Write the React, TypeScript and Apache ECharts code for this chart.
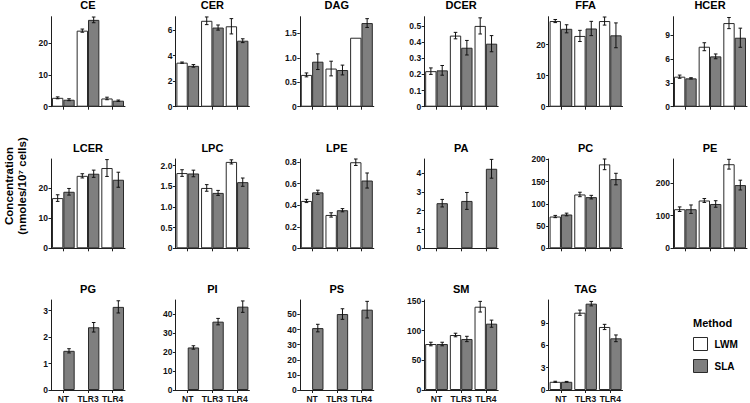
import { useEffect, useRef } from "react";
import * as echarts from "echarts";

const CATEGORIES = ["NT", "TLR3", "TLR4"];
const SERIES_NAMES = ["LWM", "SLA"];
const LEGEND_TITLE = "Method";
const Y_TITLE_1 = "Concentration";
const Y_TITLE_2 = "(nmoles/10⁷ cells)";

// ---- data (means and SEM) ----
const CE_LWM = [2.8, 24.0, 2.6];
const CE_LWM_ERR = [0.3, 0.5, 0.4];
const CE_SLA = [2.2, 27.4, 1.9];
const CE_SLA_ERR = [0.3, 0.9, 0.2];
const CE_MAX = 28.4;
const CE_TICKS = [0, 10, 20];

const CER_LWM = [3.45, 6.73, 6.3];
const CER_LWM_ERR = [0.05, 0.3, 0.6];
const CER_SLA = [3.2, 6.2, 5.17];
const CER_SLA_ERR = [0.1, 0.2, 0.15];
const CER_MAX = 7.05;
const CER_TICKS = [0, 2, 4, 6];

const DAG_LWM = [0.65, 0.78, 1.41];
const DAG_LWM_ERR = [0.04, 0.15, 0];
const DAG_SLA = [0.92, 0.75, 1.71];
const DAG_SLA_ERR = [0.16, 0.1, 0.09];
const DAG_MAX = 1.84;
const DAG_TICKS = [0, 0.5, 1.0, 1.5];

const DCER_LWM = [0.22, 0.44, 0.5];
const DCER_LWM_ERR = [0.02, 0.02, 0.05];
const DCER_SLA = [0.225, 0.365, 0.39];
const DCER_SLA_ERR = [0.03, 0.045, 0.05];
const DCER_MAX = 0.557;
const DCER_TICKS = [0, 0.1, 0.2, 0.3, 0.4, 0.5];

const FFA_LWM = [27.6, 22.8, 27.6];
const FFA_LWM_ERR = [0.5, 1.8, 1.3];
const FFA_SLA = [25.1, 25.2, 23.0];
const FFA_SLA_ERR = [1.3, 2.3, 4.0];
const FFA_MAX = 29;
const FFA_TICKS = [0, 10, 20];

const HCER_LWM = [3.77, 7.53, 10.5];
const HCER_LWM_ERR = [0.2, 0.5, 0.7];
const HCER_SLA = [3.56, 6.32, 8.66];
const HCER_SLA_ERR = [0.08, 0.3, 1.2];
const HCER_MAX = 11.3;
const HCER_TICKS = [0, 3, 6, 9];

const LCER_LWM = [16.7, 24.1, 26.7];
const LCER_LWM_ERR = [1.1, 0.7, 2.8];
const LCER_SLA = [18.8, 24.8, 22.8];
const LCER_SLA_ERR = [1.1, 1.2, 2.5];
const LCER_MAX = 29.7;
const LCER_TICKS = [0, 10, 20];

const LPC_LWM = [1.82, 1.46, 2.09];
const LPC_LWM_ERR = [0.08, 0.08, 0.05];
const LPC_SLA = [1.81, 1.34, 1.6];
const LPC_SLA_ERR = [0.08, 0.06, 0.1];
const LPC_MAX = 2.16;
const LPC_TICKS = [0, 0.5, 1.0, 1.5, 2.0];

const LPE_LWM = [0.44, 0.31, 0.8];
const LPE_LWM_ERR = [0.015, 0.02, 0.03];
const LPE_SLA = [0.52, 0.354, 0.63];
const LPE_SLA_ERR = [0.02, 0.015, 0.07];
const LPE_MAX = 0.83;
const LPE_TICKS = [0, 0.2, 0.4, 0.6, 0.8];

const PA_LWM = [null, null, null];
const PA_LWM_ERR = [null, null, null];
const PA_SLA = [2.4, 2.52, 4.23];
const PA_SLA_ERR = [0.2, 0.45, 0.5];
const PA_MAX = 4.75;
const PA_TICKS = [0, 1, 2, 3, 4];

const PC_LWM = [71.4, 121, 188.7];
const PC_LWM_ERR = [2.5, 5, 12];
const PC_SLA = [76, 115, 155.6];
const PC_SLA_ERR = [3, 4, 13];
const PC_MAX = 200.7;
const PC_TICKS = [0, 50, 100, 150, 200];

const PE_LWM = [120, 146.7, 258];
const PE_LWM_ERR = [7, 6, 15];
const PE_SLA = [120, 136, 194];
const PE_SLA_ERR = [13, 10, 15];
const PE_MAX = 274;
const PE_TICKS = [0, 100, 200];

const PG_LWM = [null, null, null];
const PG_LWM_ERR = [null, null, null];
const PG_SLA = [1.48, 2.37, 3.14];
const PG_SLA_ERR = [0.08, 0.18, 0.23];
const PG_MAX = 3.4;
const PG_TICKS = [0, 1, 2, 3];

const PI_LWM = [null, null, null];
const PI_LWM_ERR = [null, null, null];
const PI_SLA = [22.4, 36, 43.9];
const PI_SLA_ERR = [0.9, 1.7, 3];
const PI_MAX = 47.4;
const PI_TICKS = [0, 10, 20, 30, 40];

const PS_LWM = [null, null, null];
const PS_LWM_ERR = [null, null, null];
const PS_SLA = [41, 50.3, 53.2];
const PS_SLA_ERR = [2.5, 3.5, 5.5];
const PS_MAX = 59.6;
const PS_TICKS = [0, 10, 20, 30, 40, 50];

const SM_LWM = [77.5, 92.7, 140.4];
const SM_LWM_ERR = [3, 3, 9];
const SM_SLA = [77.5, 86, 111.8];
const SM_SLA_ERR = [3, 4.5, 6];
const SM_MAX = 151.7;
const SM_TICKS = [0, 50, 100, 150];

const TAG_LWM = [1.1, 10.35, 8.44];
const TAG_LWM_ERR = [0.07, 0.35, 0.35];
const TAG_SLA = [1.1, 11.56, 6.92];
const TAG_SLA_ERR = [0.05, 0.3, 0.45];
const TAG_MAX = 12.05;
const TAG_TICKS = [0, 3, 6, 9];

const PANELS = [
  { name: "CE", lwm: CE_LWM, lwmErr: CE_LWM_ERR, sla: CE_SLA, slaErr: CE_SLA_ERR, max: CE_MAX, ticks: CE_TICKS, dec: 0 },
  { name: "CER", lwm: CER_LWM, lwmErr: CER_LWM_ERR, sla: CER_SLA, slaErr: CER_SLA_ERR, max: CER_MAX, ticks: CER_TICKS, dec: 0 },
  { name: "DAG", lwm: DAG_LWM, lwmErr: DAG_LWM_ERR, sla: DAG_SLA, slaErr: DAG_SLA_ERR, max: DAG_MAX, ticks: DAG_TICKS, dec: 1 },
  { name: "DCER", lwm: DCER_LWM, lwmErr: DCER_LWM_ERR, sla: DCER_SLA, slaErr: DCER_SLA_ERR, max: DCER_MAX, ticks: DCER_TICKS, dec: 1 },
  { name: "FFA", lwm: FFA_LWM, lwmErr: FFA_LWM_ERR, sla: FFA_SLA, slaErr: FFA_SLA_ERR, max: FFA_MAX, ticks: FFA_TICKS, dec: 0 },
  { name: "HCER", lwm: HCER_LWM, lwmErr: HCER_LWM_ERR, sla: HCER_SLA, slaErr: HCER_SLA_ERR, max: HCER_MAX, ticks: HCER_TICKS, dec: 0 },
  { name: "LCER", lwm: LCER_LWM, lwmErr: LCER_LWM_ERR, sla: LCER_SLA, slaErr: LCER_SLA_ERR, max: LCER_MAX, ticks: LCER_TICKS, dec: 0 },
  { name: "LPC", lwm: LPC_LWM, lwmErr: LPC_LWM_ERR, sla: LPC_SLA, slaErr: LPC_SLA_ERR, max: LPC_MAX, ticks: LPC_TICKS, dec: 1 },
  { name: "LPE", lwm: LPE_LWM, lwmErr: LPE_LWM_ERR, sla: LPE_SLA, slaErr: LPE_SLA_ERR, max: LPE_MAX, ticks: LPE_TICKS, dec: 1 },
  { name: "PA", lwm: PA_LWM, lwmErr: PA_LWM_ERR, sla: PA_SLA, slaErr: PA_SLA_ERR, max: PA_MAX, ticks: PA_TICKS, dec: 0 },
  { name: "PC", lwm: PC_LWM, lwmErr: PC_LWM_ERR, sla: PC_SLA, slaErr: PC_SLA_ERR, max: PC_MAX, ticks: PC_TICKS, dec: 0 },
  { name: "PE", lwm: PE_LWM, lwmErr: PE_LWM_ERR, sla: PE_SLA, slaErr: PE_SLA_ERR, max: PE_MAX, ticks: PE_TICKS, dec: 0 },
  { name: "PG", lwm: PG_LWM, lwmErr: PG_LWM_ERR, sla: PG_SLA, slaErr: PG_SLA_ERR, max: PG_MAX, ticks: PG_TICKS, dec: 0 },
  { name: "PI", lwm: PI_LWM, lwmErr: PI_LWM_ERR, sla: PI_SLA, slaErr: PI_SLA_ERR, max: PI_MAX, ticks: PI_TICKS, dec: 0 },
  { name: "PS", lwm: PS_LWM, lwmErr: PS_LWM_ERR, sla: PS_SLA, slaErr: PS_SLA_ERR, max: PS_MAX, ticks: PS_TICKS, dec: 0 },
  { name: "SM", lwm: SM_LWM, lwmErr: SM_LWM_ERR, sla: SM_SLA, slaErr: SM_SLA_ERR, max: SM_MAX, ticks: SM_TICKS, dec: 0 },
  { name: "TAG", lwm: TAG_LWM, lwmErr: TAG_LWM_ERR, sla: TAG_SLA, slaErr: TAG_SLA_ERR, max: TAG_MAX, ticks: TAG_TICKS, dec: 0 },
];

// ---- layout / style ----
const FONT = "'Liberation Sans', Arial, Helvetica, sans-serif";
const COL_LEFT0 = 51;
const COL_STEP = 124.4;
const ROW_TOPS = [16.7, 159, 300];
const PLOT_W = 74;
const PLOT_H = [90, 89.3, 90];
const TITLE_OFFSET = 11.5;
const CAT_GAP = 0.08;
const AXIS_COLOR = "#1e1e1e";
const WHITE = "#ffffff";
const GREY = "#7f7f7f";
const BORDER = "#2a2a2a";

function makeErrRender(side: number) {
  return (params: any, api: any) => {
    const idx = api.value(0);
    const m = api.value(1);
    const e = api.value(2);
    const band = api.size([1, 0])[0];
    const bw = (band * (1 - CAT_GAP)) / 2;
    const c = api.coord([idx, m]);
    const x = c[0] + (side * bw) / 2;
    const top = api.coord([idx, m + e])[1];
    const bot = api.coord([idx, m - e])[1];
    const cap = 1.8;
    const st = { stroke: "#111", lineWidth: 1 };
    return {
      type: "group",
      children: [
        { type: "line", shape: { x1: x, y1: top, x2: x, y2: bot }, style: st },
        { type: "line", shape: { x1: x - cap, y1: top, x2: x + cap, y2: top }, style: st },
        { type: "line", shape: { x1: x - cap, y1: bot, x2: x + cap, y2: bot }, style: st },
      ],
    };
  };
}

export default function App() {
  const ref = useRef<HTMLDivElement>(null);
  useEffect(() => {
    if (!ref.current) return;
    const chart = echarts.init(ref.current, undefined, { renderer: "svg" });
    const grids: any[] = [];
    const xAxes: any[] = [];
    const yAxes: any[] = [];
    const series: any[] = [];
    const graphics: any[] = [];

    PANELS.forEach((p, i) => {
      const row = Math.floor(i / 6);
      const col = i % 6;
      const left = COL_LEFT0 + col * COL_STEP;
      const top = ROW_TOPS[row];
      grids.push({ left, top, width: PLOT_W, height: PLOT_H[row], containLabel: false });
      xAxes.push({
        type: "category",
        gridIndex: i,
        data: CATEGORIES,
        boundaryGap: true,
        axisLine: { show: true, lineStyle: { color: AXIS_COLOR, width: 1 } },
        axisTick: { show: true, alignWithLabel: true, length: 3, lineStyle: { color: AXIS_COLOR } },
        axisLabel: {
          show: row === 2,
          fontFamily: FONT,
          fontSize: 8.5,
          fontWeight: "bold",
          color: "#111",
          margin: 4,
          interval: 0,
        },
        splitLine: { show: false },
      });
      yAxes.push({
        type: "value",
        gridIndex: i,
        min: 0,
        max: p.max,
        axisLine: { show: true, lineStyle: { color: AXIS_COLOR, width: 1 } },
        axisTick: { show: true, length: 2.5, customValues: p.ticks, lineStyle: { color: AXIS_COLOR } },
        axisLabel: {
          customValues: p.ticks,
          fontFamily: FONT,
          fontSize: 8.5,
          fontWeight: "bold",
          color: "#111",
          margin: 3,
          formatter: (v: number) => (v === 0 ? "0" : v.toFixed(p.dec)),
        },
        splitLine: { show: false },
      });
      series.push({
        type: "bar",
        name: SERIES_NAMES[0],
        xAxisIndex: i,
        yAxisIndex: i,
        data: p.lwm,
        barGap: "0%",
        barCategoryGap: `${CAT_GAP * 100}%`,
        itemStyle: { color: WHITE, borderColor: BORDER, borderWidth: 1 },
        z: 2,
      });
      series.push({
        type: "bar",
        name: SERIES_NAMES[1],
        xAxisIndex: i,
        yAxisIndex: i,
        data: p.sla,
        barGap: "0%",
        barCategoryGap: `${CAT_GAP * 100}%`,
        itemStyle: { color: GREY, borderColor: BORDER, borderWidth: 1 },
        z: 2,
      });
      const lwmErrData = p.lwm
        .map((v: any, k: number) => [k, v, p.lwmErr[k]])
        .filter((d: any) => d[1] != null && d[2] != null && d[2] > 0);
      const slaErrData = p.sla
        .map((v: any, k: number) => [k, v, p.slaErr[k]])
        .filter((d: any) => d[1] != null && d[2] != null && d[2] > 0);
      series.push({
        type: "custom",
        name: "err-lwm-" + p.name,
        xAxisIndex: i,
        yAxisIndex: i,
        data: lwmErrData,
        encode: { x: 0, y: 1 },
        renderItem: makeErrRender(-1),
        z: 5,
        silent: true,
      });
      series.push({
        type: "custom",
        name: "err-sla-" + p.name,
        xAxisIndex: i,
        yAxisIndex: i,
        data: slaErrData,
        encode: { x: 0, y: 1 },
        renderItem: makeErrRender(1),
        z: 5,
        silent: true,
      });
      graphics.push({
        type: "text",
        x: left + PLOT_W / 2,
        y: top - TITLE_OFFSET,
        style: {
          text: p.name,
          align: "center",
          verticalAlign: "middle",
          font: `bold 11px ${FONT}`,
          fill: "#000",
        },
      });
    });

    graphics.push({
      type: "text",
      x: 9,
      y: 186,
      rotation: Math.PI / 2,
      style: { text: Y_TITLE_1, align: "center", verticalAlign: "middle", font: `bold 11.5px ${FONT}`, fill: "#000" },
    });
    graphics.push({
      type: "text",
      x: 22,
      y: 186,
      rotation: Math.PI / 2,
      style: { text: Y_TITLE_2, align: "center", verticalAlign: "middle", font: `bold 11.5px ${FONT}`, fill: "#000" },
    });
    graphics.push({
      type: "text",
      x: 693,
      y: 323,
      style: { text: LEGEND_TITLE, align: "left", verticalAlign: "middle", font: `bold 11px ${FONT}`, fill: "#000" },
    });

    chart.setOption({
      animation: false,
      backgroundColor: "#fff",
      grid: grids,
      xAxis: xAxes,
      yAxis: yAxes,
      series,
      graphic: graphics,
      legend: {
        orient: "vertical",
        left: 693,
        top: 337,
        itemWidth: 14,
        itemHeight: 13,
        itemGap: 8,
        padding: 0,
        selectedMode: false,
        icon: "rect",
        textStyle: { fontFamily: FONT, fontSize: 10, fontWeight: "bold", color: "#000", padding: [0, 0, 0, 2] },
        data: [
          { name: SERIES_NAMES[0], itemStyle: { color: WHITE, borderColor: BORDER, borderWidth: 1 } },
          { name: SERIES_NAMES[1], itemStyle: { color: GREY, borderColor: BORDER, borderWidth: 1 } },
        ],
      },
    });
    return () => chart.dispose();
  }, []);
  return (
    <div
      ref={ref}
      style={{ position: "fixed", left: 0, top: 0, width: 750, height: 403, background: "#fff" }}
    />
  );
}
